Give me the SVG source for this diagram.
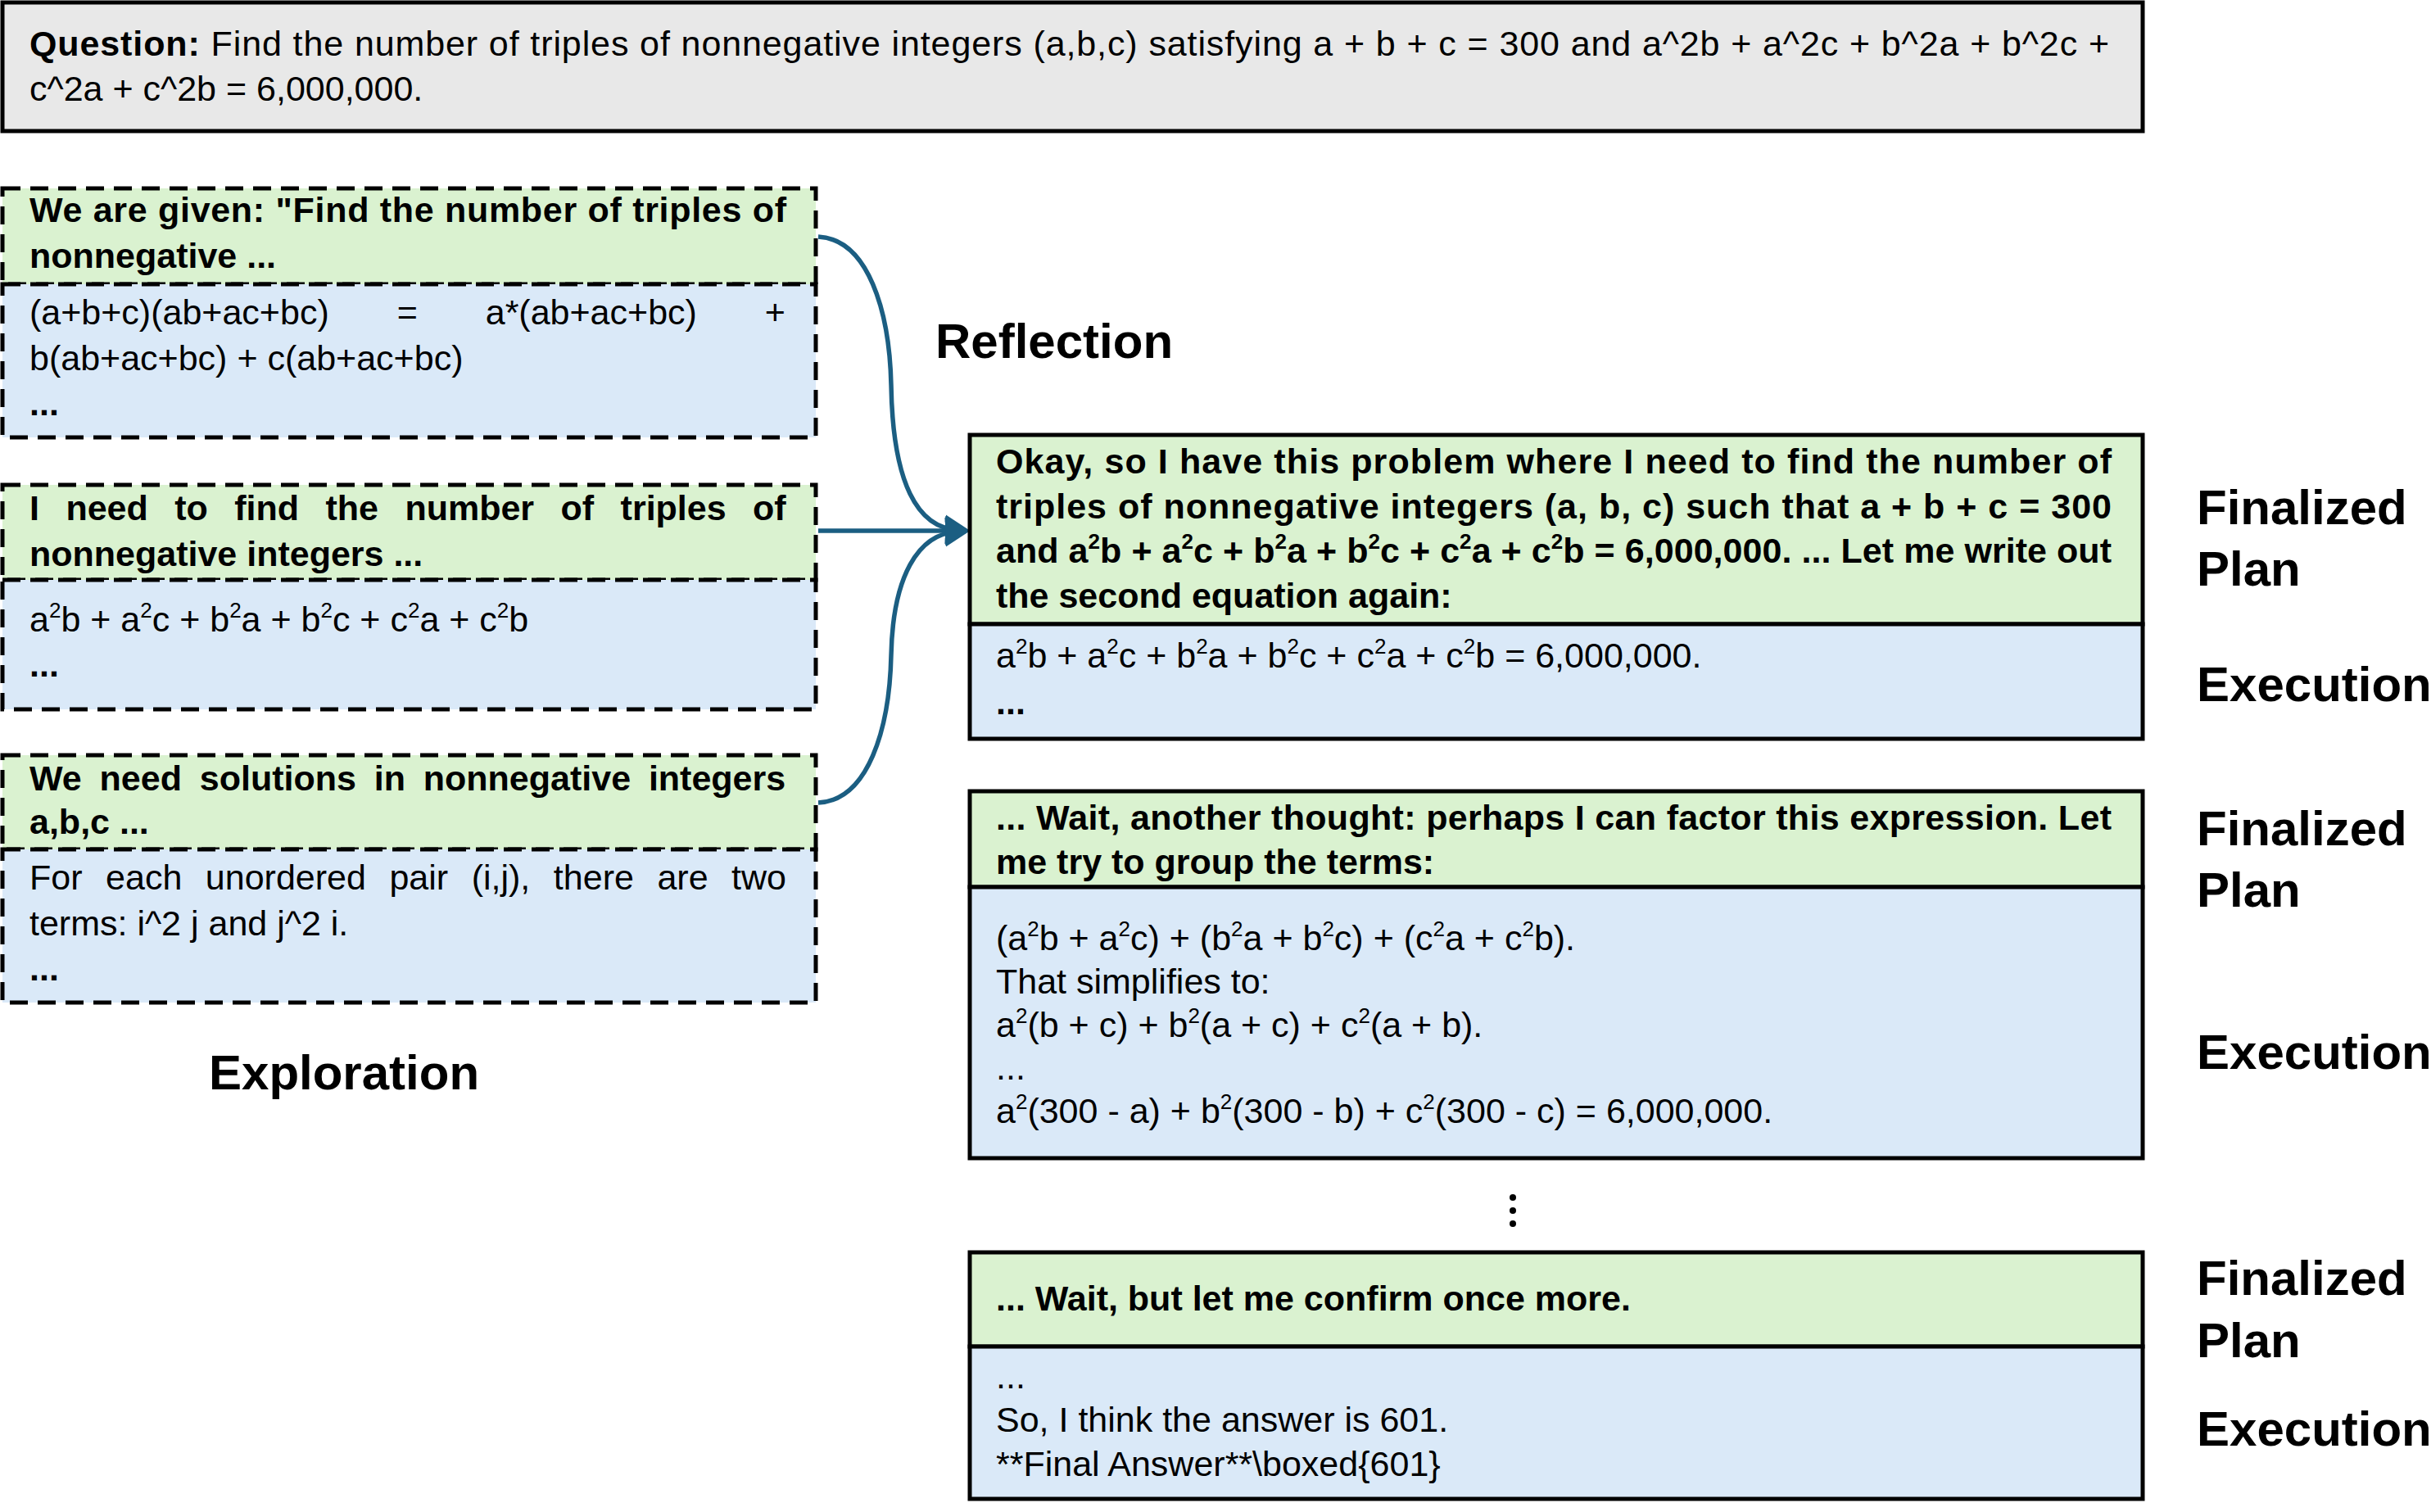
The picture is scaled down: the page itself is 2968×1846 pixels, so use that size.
<svg xmlns="http://www.w3.org/2000/svg" width="2968" height="1846" viewBox="0 0 2968 1846">
<style>
.t{font-family:"Liberation Sans",Arial,sans-serif;font-size:43px;fill:#000}
.b{font-weight:bold}
.sup{font-size:26px}
.h{font-family:"Liberation Sans",Arial,sans-serif;font-size:60px;font-weight:bold;fill:#000}
.green{fill:#DAF2D0}
.blue{fill:#DAE9F8}
.dash{stroke:#000;stroke-width:5;stroke-dasharray:22 12}
.solid{stroke:#000;stroke-width:5}
.conn{fill:none;stroke:#1B5E82;stroke-width:5.5}
</style>
<defs>
<marker id="ah" markerUnits="userSpaceOnUse" markerWidth="30" markerHeight="36" viewBox="0 0 28 34" refX="15" refY="17" orient="auto">
<path d="M0,0 L28,17 L0,34 z" fill="#1B5E82"/>
</marker>
</defs>
<rect width="2968" height="1846" fill="#fff"/>

<g id="question">
<rect x="3" y="3" width="2613" height="157" fill="#E8E8E8" class="solid"/>
<text class="t" x="36" y="68" textLength="2539" lengthAdjust="spacing"><tspan class="b">Question:</tspan> Find the number of triples of nonnegative integers (a,b,c) satisfying a + b + c = 300 and a^2b + a^2c + b^2a + b^2c +</text>
<text class="t" x="36" y="123">c^2a + c^2b = 6,000,000.</text>
</g>

<g id="explore1">
<rect x="3" y="230" width="993" height="117" class="green dash"/>
<rect x="3" y="347" width="993" height="187" class="blue dash"/>
<text class="t b" x="36" y="271" textLength="924" lengthAdjust="spacing">We are given: "Find the number of triples of</text>
<text class="t b" x="36" y="327">nonnegative ...</text>
<text class="t" x="36" y="396" word-spacing="71">(a+b+c)(ab+ac+bc) = a*(ab+ac+bc) +</text>
<text class="t" x="36" y="452">b(ab+ac+bc) + c(ab+ac+bc)</text>
<text class="t b" x="36" y="507">...</text>
</g>

<g id="explore2">
<rect x="3" y="592" width="993" height="116" class="green dash"/>
<rect x="3" y="708" width="993" height="158" class="blue dash"/>
<text class="t b" x="36" y="635" word-spacing="20.5">I need to find the number of triples of</text>
<text class="t b" x="36" y="691">nonnegative integers ...</text>
<text class="t" x="36" y="771">a<tspan class="sup" dy="-17">2</tspan><tspan dy="17">b + a</tspan><tspan class="sup" dy="-17">2</tspan><tspan dy="17">c + b</tspan><tspan class="sup" dy="-17">2</tspan><tspan dy="17">a + b</tspan><tspan class="sup" dy="-17">2</tspan><tspan dy="17">c + c</tspan><tspan class="sup" dy="-17">2</tspan><tspan dy="17">a + c</tspan><tspan class="sup" dy="-17">2</tspan><tspan dy="17">b</tspan></text>
<text class="t b" x="36" y="826">...</text>
</g>

<g id="explore3">
<rect x="3" y="922" width="993" height="115" class="green dash"/>
<rect x="3" y="1037" width="993" height="187" class="blue dash"/>
<text class="t b" x="36" y="965" word-spacing="9.9">We need solutions in nonnegative integers</text>
<text class="t b" x="36" y="1018">a,b,c ...</text>
<text class="t" x="36" y="1086" word-spacing="16.6">For each unordered pair (i,j), there are two</text>
<text class="t" x="36" y="1142">terms: i^2 j and j^2 i.</text>
<text class="t b" x="36" y="1197">...</text>
</g>

<g id="label-exploration"><text class="h" x="255" y="1330">Exploration</text></g>
<g id="label-reflection"><text class="h" x="1142" y="437">Reflection</text></g>

<g id="connectors">
<path class="conn" marker-end="url(#ah)" d="M999,289 C1060,292 1086,380 1088,470 C1090,590 1120,645 1170,647"/>
<path class="conn" marker-end="url(#ah)" d="M999,648 L1170,648"/>
<path class="conn" marker-end="url(#ah)" d="M999,980 C1060,977 1086,890 1088,800 C1090,705 1120,651 1170,649"/>
</g>

<g id="step1">
<rect x="1184" y="531" width="1432" height="231" class="green solid"/>
<rect x="1184" y="762" width="1432" height="140" class="blue solid"/>
<text class="t b" x="1216" y="578" textLength="1362" lengthAdjust="spacing">Okay, so I have this problem where I need to find the number of</text>
<text class="t b" x="1216" y="633" textLength="1362" lengthAdjust="spacing">triples of nonnegative integers (a, b, c) such that a + b + c = 300</text>
<text class="t b" x="1216" y="687" textLength="1362" lengthAdjust="spacing">and a<tspan class="sup" dy="-17">2</tspan><tspan dy="17">b + a</tspan><tspan class="sup" dy="-17">2</tspan><tspan dy="17">c + b</tspan><tspan class="sup" dy="-17">2</tspan><tspan dy="17">a + b</tspan><tspan class="sup" dy="-17">2</tspan><tspan dy="17">c + c</tspan><tspan class="sup" dy="-17">2</tspan><tspan dy="17">a + c</tspan><tspan class="sup" dy="-17">2</tspan><tspan dy="17">b = 6,000,000. ... Let me write out</tspan></text>
<text class="t b" x="1216" y="742">the second equation again:</text>
<text class="t" x="1216" y="815">a<tspan class="sup" dy="-17">2</tspan><tspan dy="17">b + a</tspan><tspan class="sup" dy="-17">2</tspan><tspan dy="17">c + b</tspan><tspan class="sup" dy="-17">2</tspan><tspan dy="17">a + b</tspan><tspan class="sup" dy="-17">2</tspan><tspan dy="17">c + c</tspan><tspan class="sup" dy="-17">2</tspan><tspan dy="17">a + c</tspan><tspan class="sup" dy="-17">2</tspan><tspan dy="17">b = 6,000,000.</tspan></text>
<text class="t b" x="1216" y="872">...</text>
</g>

<g id="step2">
<rect x="1184" y="966" width="1432" height="117" class="green solid"/>
<rect x="1184" y="1083" width="1432" height="331" class="blue solid"/>
<text class="t b" x="1216" y="1013" textLength="1362" lengthAdjust="spacing">... Wait, another thought: perhaps I can factor this expression. Let</text>
<text class="t b" x="1216" y="1067">me try to group the terms:</text>
<text class="t" x="1216" y="1160">(a<tspan class="sup" dy="-17">2</tspan><tspan dy="17">b + a</tspan><tspan class="sup" dy="-17">2</tspan><tspan dy="17">c) + (b</tspan><tspan class="sup" dy="-17">2</tspan><tspan dy="17">a + b</tspan><tspan class="sup" dy="-17">2</tspan><tspan dy="17">c) + (c</tspan><tspan class="sup" dy="-17">2</tspan><tspan dy="17">a + c</tspan><tspan class="sup" dy="-17">2</tspan><tspan dy="17">b).</tspan></text>
<text class="t" x="1216" y="1213">That simplifies to:</text>
<text class="t" x="1216" y="1266">a<tspan class="sup" dy="-17">2</tspan><tspan dy="17">(b + c) + b</tspan><tspan class="sup" dy="-17">2</tspan><tspan dy="17">(a + c) + c</tspan><tspan class="sup" dy="-17">2</tspan><tspan dy="17">(a + b).</tspan></text>
<text class="t" x="1216" y="1318">...</text>
<text class="t" x="1216" y="1371">a<tspan class="sup" dy="-17">2</tspan><tspan dy="17">(300 - a) + b</tspan><tspan class="sup" dy="-17">2</tspan><tspan dy="17">(300 - b) + c</tspan><tspan class="sup" dy="-17">2</tspan><tspan dy="17">(300 - c) = 6,000,000.</tspan></text>
</g>

<g id="vdots">
<circle cx="1847" cy="1462" r="4"/>
<circle cx="1847" cy="1478" r="4"/>
<circle cx="1847" cy="1494" r="4"/>
</g>

<g id="step3">
<rect x="1184" y="1529" width="1432" height="115" class="green solid"/>
<rect x="1184" y="1644" width="1432" height="186" class="blue solid"/>
<text class="t b" x="1216" y="1600">... Wait, but let me confirm once more.</text>
<text class="t" x="1216" y="1695">...</text>
<text class="t" x="1216" y="1748">So, I think the answer is 601.</text>
<text class="t" x="1216" y="1802">**Final Answer**\boxed{601}</text>
</g>

<g id="labels-right">
<text class="h" x="2682" y="640">Finalized</text>
<text class="h" x="2682" y="715">Plan</text>
<text class="h" x="2682" y="856">Execution</text>
<text class="h" x="2682" y="1032">Finalized</text>
<text class="h" x="2682" y="1107">Plan</text>
<text class="h" x="2682" y="1305">Execution</text>
<text class="h" x="2682" y="1581">Finalized</text>
<text class="h" x="2682" y="1657">Plan</text>
<text class="h" x="2682" y="1765">Execution</text>
</g>
</svg>
